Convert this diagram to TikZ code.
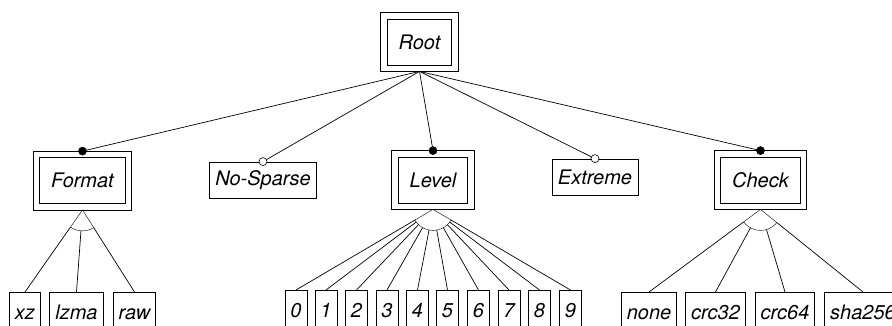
\documentclass[tikz,border=0pt]{standalone}
\usepackage{fontspec}
\setsansfont{TeX Gyre Heros}
\usetikzlibrary{calc}
\begin{document}
\begin{tikzpicture}[x=1pt,y=-1pt,
  every node/.style={font=\fontsize{20}{24}\selectfont\sffamily\itshape},
  dbox/.style={draw, line width=0.8pt, minimum height=46pt, inner xsep=11.5pt},
  outerbox/.style={line width=0.8pt},
  sbox/.style={draw, line width=0.8pt, minimum height=36pt, inner xsep=6pt},
  leaf/.style={draw, line width=0.8pt, minimum height=44pt, inner xsep=5.5pt, text height=15pt, text depth=5pt, anchor=north},
  edge/.style={line width=0.7pt},
  tri/.style={line width=0.4pt},
  mand/.style={circle, fill=black, draw, line width=0.6pt, inner sep=0pt, minimum size=8pt},
  opt/.style={circle, fill=white, draw, line width=0.6pt, inner sep=0pt, minimum size=8pt}]
\useasboundingbox (0,0) rectangle (892,325);
% features
\node[dbox] (root) at (419.5,42) {Root};
\node[dbox] (format) at (82.5,180.5) {Format};
\node[sbox] (nosparse) at (263,180) {No-Sparse};
\node[dbox] (level) at (433,180) {Level};
\node[sbox] (extreme) at (595,177) {Extreme};
\node[dbox] (check) at (760.5,180) {Check};
\foreach \n in {root,format,level,check}
  \draw[outerbox] ([shift={(-6pt,6pt)}]\n.north west) rectangle ([shift={(6pt,-6pt)}]\n.south east);
% root edges
\coordinate (rs) at ([yshift=-6pt]root.south);
\foreach \c in {format,level,check}
  \draw[edge] (rs) -- ([yshift=6pt]\c.north);
\foreach \c in {nosparse,extreme}
  \draw[edge] (rs) -- (\c.north);
\node[mand] at ([yshift=6pt]format.north) {};
\node[opt] at (nosparse.north) {};
\node[mand] at ([yshift=6pt]level.north) {};
\node[opt] at (extreme.north) {};
\node[mand] at ([yshift=6pt]check.north) {};
% leaves
\node[leaf] (xz) at (25,292) {xz};
\node[leaf] (lzma) at (76.5,292) {lzma};
\node[leaf] (raw) at (134.5,292) {raw};
\node[leaf] (l0) at (296,290) {0};
\node[leaf] (l1) at (326,290) {1};
\node[leaf] (l2) at (356.5,290) {2};
\node[leaf] (l3) at (387,290) {3};
\node[leaf] (l4) at (417.5,290) {4};
\node[leaf] (l5) at (447.5,290) {5};
\node[leaf] (l6) at (478.5,290) {6};
\node[leaf] (l7) at (509,290) {7};
\node[leaf] (l8) at (539.5,290) {8};
\node[leaf] (l9) at (570.5,290) {9};
\node[leaf] (none) at (649,292) {none};
\node[leaf] (crc32) at (715.5,292) {crc32};
\node[leaf] (crc64) at (785,292) {crc64};
\node[leaf] (sha) at (863,292) {sha256};
% alternative groups
\foreach \p/\first/\last/\kids in {format/xz/raw/{xz,lzma,raw},
    level/l0/l9/{l0,l1,l2,l3,l4,l5,l6,l7,l8,l9},
    check/none/sha/{none,crc32,crc64,sha}} {
  \coordinate (apex) at ([yshift=-6pt]\p.south);
  \foreach \k in \kids
    \draw[edge] ($(apex)!21pt!(\k.north)$) -- (\k.north);
  \draw[tri] ($(apex)!21pt!(\first.north)$) -- (apex) -- ($(apex)!21pt!(\last.north)$);
  \begin{scope}
    \clip (apex) -- ($(apex)!300pt!(\first.north)$) -- ($(apex)!300pt!(\last.north)$) -- cycle;
    \draw[tri] (apex) circle (21pt);
  \end{scope}
}
\end{tikzpicture}
\end{document}
